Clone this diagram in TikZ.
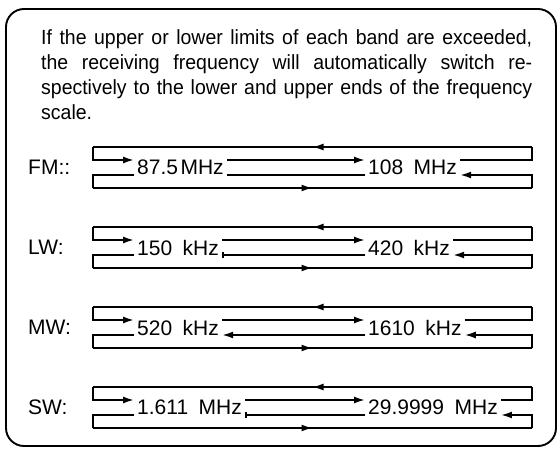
\documentclass[tikz,border=0pt]{standalone}
\usepackage{fontspec}
\setmainfont{Liberation Sans}
\newfontfamily\bodyfont[FakeStretch=0.95]{Liberation Sans}
\usetikzlibrary{arrows.meta,decorations.markings}
\newcommand{\wsp}{\hspace{0.5em}}
\newcommand{\bandrow}[6]{%
  \coordinate (#1TL) at (93,#2);
  \coordinate (#1TR) at (532,#2);
  \coordinate (#1BL) at (93,#2+41);
  \coordinate (#1BR) at (532,#2+41);
  \coordinate (#1U) at (0,#2+13);
  \coordinate (#1L) at (0,#2+28);
  \node[bandname] (#1name) at (28,#2+20.5) {#3};
  \node[freq] (#1lo) at (134,#2+20.5) {#4};
  \node[freq] (#1hi) at (365,#2+20.5) {#5};
  \draw[ln] (#1hi.east |- #1U) -| (#1TR);
  \draw[ln,mid] (#1TR) -- (#1TL);
  \draw[ln,->] (#1TL) |- (#1lo.west |- #1U);
  \draw[ln,->] (#1lo.east |- #1U) -- (#1hi.west |- #1U);
  \draw[ln,#6] (#1hi.west |- #1L) -- (#1lo.east |- #1L);
  \draw[ln] (#1lo.west |- #1L) -| (#1BL);
  \draw[ln,mid] (#1BL) -- (#1BR);
  \draw[ln,->] (#1BR) |- (#1hi.east |- #1L);
}
\begin{document}
\begin{tikzpicture}[x=1pt,y=-1pt,
  >={Latex[length=11pt,width=7pt]},
  ln/.style={line width=1.8pt},
  mid/.style={postaction={decorate},decoration={markings,mark=at position 0.5 with {\arrow{>}}}},
  frame/.style={line width=1.9pt,rounded corners=18pt},
  bandname/.style={anchor=west,inner sep=0pt,font=\fontsize{21}{24}\selectfont},
  freq/.style={anchor=west,inner sep=3pt,font=\fontsize{21}{24}\selectfont},
  body/.style={anchor=base west,inner sep=0pt,font=\bodyfont\fontsize{20.5}{25}\selectfont}]
\useasboundingbox (0,0) rectangle (560,449);
\draw[frame] (6,9) rectangle (556,446);
\node[body] (t1) at (41,45) {\makebox[491pt][s]{If the upper or lower limits of each band are exceeded,}};
\node[body] (t2) at (41,70) {\makebox[491pt][s]{the receiving frequency will automatically switch re-}};
\node[body] (t3) at (41,95) {\makebox[491pt][s]{spectively to the lower and upper ends of the frequency}};
\node[body] (t4) at (41,120) {scale.};
\bandrow{fm}{147}{FM::}{87.5\hspace{0.12em}MHz}{108\wsp MHz}{}
\bandrow{lw}{227}{LW:}{150\wsp kHz}{420\wsp kHz}{-{Bar[width=6pt]}}
\bandrow{mw}{307}{MW:}{520\wsp kHz}{1610\wsp kHz}{->}
\bandrow{sw}{387}{SW:}{1.611\wsp MHz}{29.9999\wsp MHz}{-{Bar[width=6pt]}}
\end{tikzpicture}
\end{document}
